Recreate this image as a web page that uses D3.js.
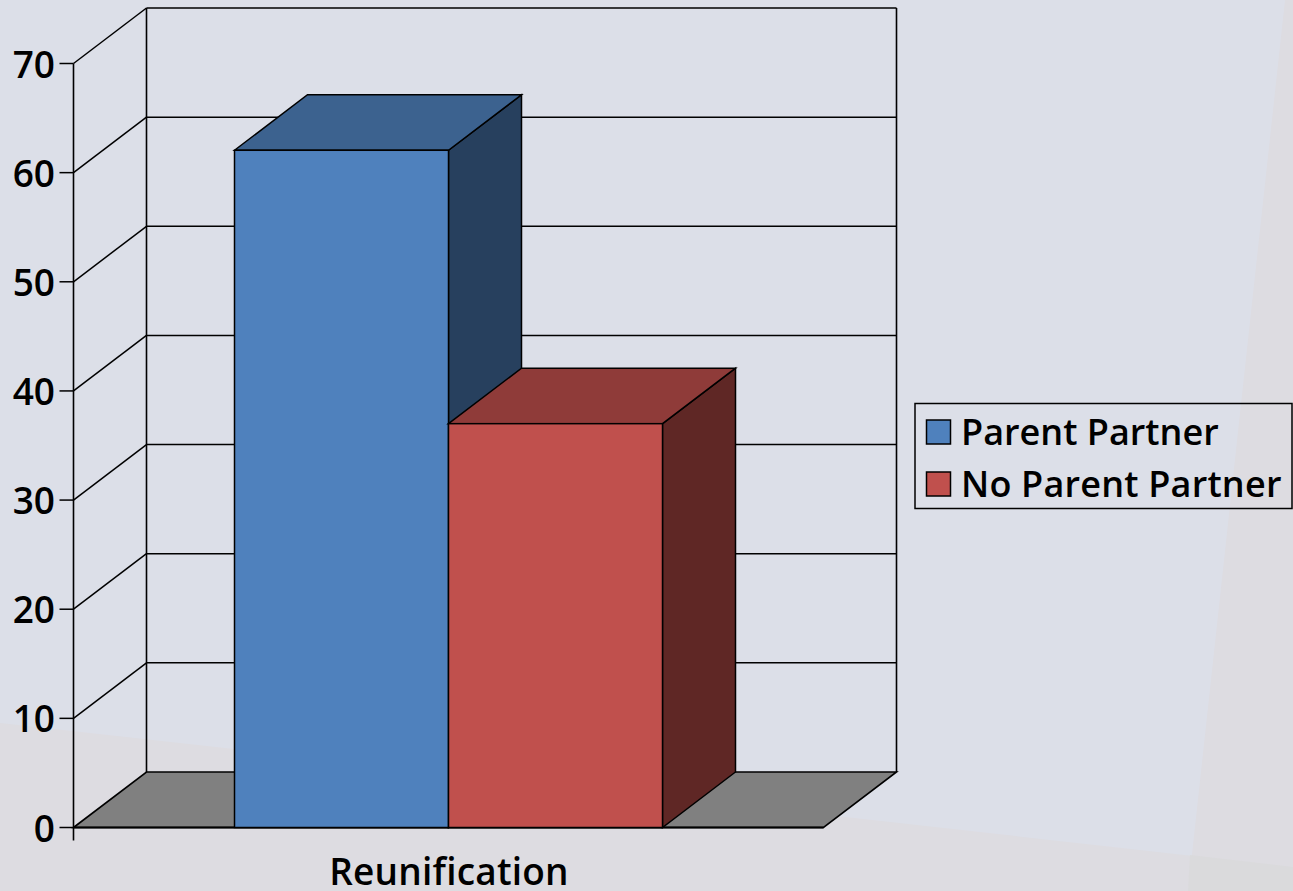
<!DOCTYPE html>
<html><head><meta charset="utf-8">
<style>html,body{margin:0;padding:0;background:#dcdfe8;overflow:hidden}svg{display:block}
text{font-family:"Open Sans",sans-serif;font-weight:600;fill:#000}</style>
<script src="https://cdnjs.cloudflare.com/ajax/libs/d3/7.8.5/d3.min.js"></script></head><body>
<script>
const categories=["Reunification"];
const seriesNames=["Parent Partner","No Parent Partner"];
const seriesValues=[62.05,37];
const yTicks=[0,10,20,30,40,50,60,70];
const faceColors=["#4f81bd","#c0504d"];
const topColors=["#3c628f","#8f3b39"];
const sideColors=["#27405e","#5f2725"];

const svg=d3.select("body").append("svg").attr("width",1293).attr("height",891);
const bg=svg.append("g");
bg.append("rect").attr("width",1293).attr("height",891).attr("fill","#dcdfe8");
bg.append("path").attr("d","M0,723L1293,867V891H0Z").attr("fill","#dddce1");
bg.append("path").attr("d","M1285,0H1293V891H1188Z").attr("fill","#dddce1");
bg.append("path").attr("d","M1190,855L1293,867V891H1188Z").attr("fill","#dadadc");

const y=d3.scaleLinear().domain([0,70]).range([827.5,63.5]);
const x0=d3.scaleBand().domain(categories).range([73.5,823.5]);
const x=d3.scaleBand().domain(seriesNames).range([234.5,662.5]);
const dx=73,dy=-55.5;
const L=x0.range()[0],R=x0.range()[1],b=y(0);
const line=(a,c,d,e,w=1.5)=>svg.append("line").attr("x1",a).attr("y1",c).attr("x2",d).attr("y2",e).attr("stroke","#000").attr("stroke-width",w);

svg.append("path").attr("d",`M${L},${b}L${L+dx},${b+dy}H${R+dx}L${R},${b}Z`).attr("fill","#808080").attr("stroke","#000").attr("stroke-width",1.6);
yTicks.forEach(t=>{
  if(t>0){line(L,y(t),L+dx,y(t)+dy);line(L+dx,y(t)+dy,R+dx,y(t)+dy);}
  line(L-14,y(t),L,y(t));
});
line(L,y(70),L,b+13,1.6);
line(L+dx,y(70)+dy,L+dx,b+dy,1.6);
line(R+dx,y(70)+dy,R+dx,b+dy,1.6);
line(L,b,R,b,1.8);

const bars=svg.append("g").selectAll("g").data(seriesNames).join("g");
bars.each(function(s,i){
  const g=d3.select(this),a=x(s),w=x.bandwidth(),t=y(seriesValues[i]);
  g.append("path").attr("d",`M${a+w},${t}L${a+w+dx},${t+dy}V${b+dy}L${a+w},${b}Z`).attr("fill",sideColors[i]).attr("stroke","#000").attr("stroke-width",1.5);
  g.append("path").attr("d",`M${a},${t}L${a+dx},${t+dy}H${a+w+dx}L${a+w},${t}Z`).attr("fill",topColors[i]).attr("stroke","#000").attr("stroke-width",1.5);
  g.append("rect").attr("x",a).attr("y",t).attr("width",w).attr("height",b-t).attr("fill",faceColors[i]).attr("stroke","#000").attr("stroke-width",1.5);
});

svg.append("g").selectAll("text").data(yTicks).join("text")
  .attr("x",55).attr("y",d=>y(d)+14).attr("text-anchor","end").attr("font-size",37).text(d=>d);
svg.selectAll("text.cat").data(categories).join("text").attr("class","cat")
  .attr("x",449).attr("y",885).attr("text-anchor","middle").attr("font-size",37).attr("letter-spacing",0.2).text(d=>d);

const lg=svg.append("g");
lg.append("rect").attr("x",915).attr("y",403.5).attr("width",377).attr("height",105).attr("fill","none").attr("stroke","#000").attr("stroke-width",1.5);
const ly=d3.scalePoint().domain(seriesNames).range([432,484]);
seriesNames.forEach((s,i)=>{
  lg.append("rect").attr("x",926.5).attr("y",ly(s)-12).attr("width",24).attr("height",24).attr("fill",faceColors[i]).attr("stroke","#000").attr("stroke-width",1.5);
  lg.append("text").attr("x",961).attr("y",ly(s)+13).attr("font-size",36).attr("letter-spacing",i?0.2:0).text(s);
});
</script></body></html>
